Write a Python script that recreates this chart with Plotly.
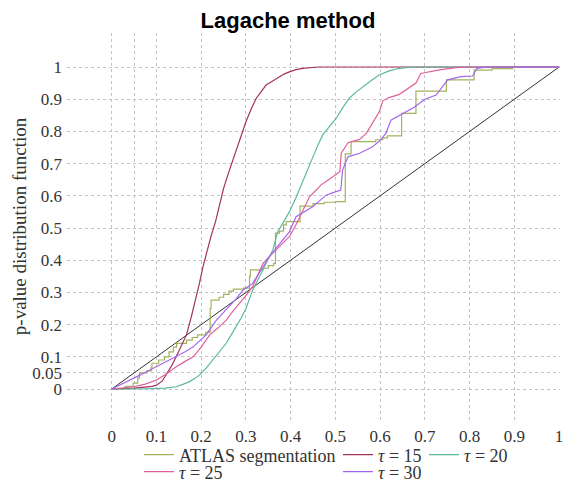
import plotly.graph_objects as go

# ---------------- data ----------------
tau15_x = [0, 0.05, 0.09, 0.1, 0.113, 0.126, 0.135, 0.144, 0.156, 0.167, 0.178, 0.187, 0.196,
           0.204, 0.211, 0.222, 0.232, 0.24, 0.25, 0.262, 0.275, 0.288, 0.30, 0.312, 0.323,
           0.335, 0.345, 0.358, 0.371, 0.385, 0.397, 0.412, 0.427, 0.46, 1.0]
tau15_y = [0, 0.003, 0.008, 0.012, 0.025, 0.054, 0.075, 0.10, 0.135, 0.168, 0.225, 0.275, 0.328,
           0.38, 0.42, 0.475, 0.52, 0.57, 0.623, 0.675, 0.727, 0.78, 0.83, 0.87, 0.903,
           0.925, 0.944, 0.955, 0.967, 0.978, 0.985, 0.992, 0.996, 1.0, 1.0]

tau20_x = [0, 0.06, 0.12, 0.144, 0.16, 0.174, 0.186, 0.196, 0.211, 0.226, 0.241, 0.256, 0.267,
           0.278, 0.29, 0.30, 0.308, 0.315, 0.327, 0.338, 0.349, 0.36, 0.371, 0.384, 0.397,
           0.412, 0.427, 0.438, 0.449, 0.46, 0.472, 0.487, 0.502, 0.516, 0.531, 0.546, 0.561,
           0.58, 0.598, 0.62, 0.643, 0.673, 1.0]
tau20_y = [0, 0.0, 0.003, 0.007, 0.015, 0.023, 0.033, 0.043, 0.065, 0.09, 0.115, 0.142, 0.168,
           0.193, 0.222, 0.25, 0.28, 0.307, 0.34, 0.37, 0.40, 0.432, 0.488, 0.52, 0.55,
           0.595, 0.645, 0.685, 0.72, 0.755, 0.79, 0.815, 0.841, 0.873, 0.903, 0.922, 0.939,
           0.958, 0.975, 0.988, 0.996, 1.0, 1.0]

atlas_x = [0, 0.03, 0.048, 0.058, 0.062, 0.078, 0.088, 0.09, 0.105, 0.118, 0.128, 0.138, 0.145,
           0.167, 0.18, 0.192, 0.21, 0.22, 0.222, 0.24, 0.25, 0.262, 0.272, 0.295, 0.308, 0.31,
           0.338, 0.35, 0.362, 0.366, 0.375, 0.384, 0.39, 0.421, 0.45, 0.475, 0.5, 0.522, 0.535,
           0.59, 0.606, 0.616, 0.648, 0.68, 0.748, 0.81, 0.85, 0.896, 1.0]
atlas_y = [0, 0.008, 0.018, 0.034, 0.05, 0.056, 0.066, 0.08, 0.09, 0.1, 0.115, 0.13, 0.142,
           0.152, 0.16, 0.168, 0.176, 0.25, 0.276, 0.285, 0.294, 0.304, 0.31, 0.313, 0.35, 0.37,
           0.375, 0.383, 0.39, 0.484, 0.49, 0.51, 0.52, 0.568, 0.576, 0.58, 0.582, 0.73, 0.768,
           0.774, 0.78, 0.786, 0.856, 0.925, 0.96, 0.99, 0.995, 1.0, 1.0]

tau25_x = [0, 0.025, 0.048, 0.075, 0.1, 0.12, 0.144, 0.163, 0.182, 0.2, 0.219, 0.238, 0.256,
           0.27, 0.286, 0.3, 0.315, 0.325, 0.338, 0.355, 0.367, 0.375, 0.397, 0.41, 0.42, 0.435,
           0.442, 0.455, 0.468, 0.48, 0.494, 0.51, 0.513, 0.528, 0.554, 0.569, 0.576, 0.587,
           0.598, 0.606, 0.62, 0.643, 0.673, 0.68, 0.691, 0.732, 0.77, 0.8, 1.0]
tau25_y = [0, 0.003, 0.007, 0.015, 0.028, 0.045, 0.069, 0.085, 0.10, 0.13, 0.168, 0.19, 0.214,
           0.24, 0.266, 0.29, 0.318, 0.35, 0.39, 0.415, 0.432, 0.442, 0.473, 0.505, 0.535, 0.575,
           0.597, 0.615, 0.634, 0.645, 0.66, 0.675, 0.732, 0.765, 0.775, 0.794, 0.81, 0.835,
           0.861, 0.895, 0.905, 0.915, 0.944, 0.95, 0.98, 0.991, 0.998, 1.0, 1.0]

tau30_x = [0, 0.025, 0.045, 0.063, 0.08, 0.1, 0.12, 0.144, 0.163, 0.182, 0.197, 0.211, 0.222,
           0.234, 0.248, 0.263, 0.278, 0.293, 0.315, 0.325, 0.338, 0.352, 0.367, 0.38, 0.397,
           0.412, 0.43, 0.449, 0.465, 0.479, 0.495, 0.512, 0.516, 0.528, 0.554, 0.583, 0.598,
           0.613, 0.624, 0.65, 0.676, 0.7, 0.725, 0.751, 0.78, 0.807, 0.816, 0.84, 1.0]
tau30_y = [0, 0.018, 0.03, 0.043, 0.055, 0.069, 0.085, 0.10, 0.115, 0.131, 0.15, 0.168, 0.19,
           0.214, 0.235, 0.256, 0.28, 0.307, 0.328, 0.35, 0.38, 0.41, 0.437, 0.46, 0.488,
           0.535, 0.55, 0.566, 0.585, 0.602, 0.61, 0.618, 0.68, 0.721, 0.732, 0.752, 0.77,
           0.794, 0.835, 0.856, 0.875, 0.9, 0.913, 0.96, 0.97, 0.972, 0.996, 1.0, 1.0]

diag_x = [0, 1]
diag_y = [0, 1]

x_ticks = [0, 0.05, 0.1, 0.2, 0.3, 0.4, 0.5, 0.6, 0.7, 0.8, 0.9, 1]
x_labels = ["0", "", "0.1", "0.2", "0.3", "0.4", "0.5", "0.6", "0.7", "0.8", "0.9", "1"]
y_ticks = [0, 0.05, 0.1, 0.2, 0.3, 0.4, 0.5, 0.6, 0.7, 0.8, 0.9, 1]
y_labels = ["0", "0.05", "0.1", "0.2", "0.3", "0.4", "0.5", "0.6", "0.7", "0.8", "0.9", "1"]

# ---------------- styling ----------------
SERIF = "Liberation Serif, DejaVu Serif, serif"
TXT = "#333333"
GRID = "#c4c4c4"

fig = go.Figure()
fig.add_trace(go.Scatter(x=diag_x, y=diag_y, mode="lines", showlegend=False,
                         line=dict(color="#333333", width=1), hoverinfo="skip"))
fig.add_trace(go.Scatter(x=atlas_x, y=atlas_y, mode="lines", name="ATLAS segmentation",
                         line=dict(color="#a3b35c", width=1.2, shape="hv"), legend="legend"))
fig.add_trace(go.Scatter(x=tau15_x, y=tau15_y, mode="lines", name="<i>τ</i> = 15",
                         line=dict(color="#a3325e", width=1.2), legend="legend2"))
fig.add_trace(go.Scatter(x=tau20_x, y=tau20_y, mode="lines", name="<i>τ</i> = 20",
                         line=dict(color="#5bb99d", width=1.2), legend="legend3"))
fig.add_trace(go.Scatter(x=tau25_x, y=tau25_y, mode="lines", name="<i>τ</i> = 25",
                         line=dict(color="#e0609e", width=1.2), legend="legend4"))
fig.add_trace(go.Scatter(x=tau30_x, y=tau30_y, mode="lines", name="<i>τ</i> = 30",
                         line=dict(color="#a366ee", width=1.2), legend="legend5"))

# the page adds an 8px body margin, so the figure is sized/placed to compensate
OFF = 8
W, H = 572 - OFF, 489 - OFF
L, T = 67 - OFF, 33 - OFF
R = W - (560 - OFF)
B = H - (420 - OFF)
pw, ph = W - L - R, H - T - B


def lx(page_px):
    return (page_px - OFF - L) / pw


def ly(page_py):
    return (H - B - (page_py - OFF)) / ph


leg_common = dict(bgcolor="rgba(0,0,0,0)", borderwidth=0, orientation="v",
                  font=dict(family=SERIF, size=18, color=TXT),
                  xanchor="left", yanchor="middle", itemwidth=30)

# text start positions (page px) of the three legend columns, minus the symbol area
text1, text2, text3 = 180, 379, 465
col1, col2, col3 = text1 - 41, text2 - 41, text3 - 41
row1, row2 = 455, 472

fig.update_layout(
    width=W, height=H,
    margin=dict(l=L, r=R, t=T, b=B, autoexpand=False),
    paper_bgcolor="white", plot_bgcolor="white",
    title=dict(text="<b>Lagache method</b>", x=(288 - OFF) / W, xanchor="center", xref="container",
               y=1 - (20 - OFF) / H, yanchor="middle", yref="container",
               font=dict(family="Liberation Sans, Arial, sans-serif", size=22, color="black")),
    xaxis=dict(range=[-0.1, 1.002], tickvals=x_ticks, ticktext=x_labels,
               showgrid=True, gridcolor=GRID, griddash="3px,3px", gridwidth=1,
               zeroline=False, showline=False, ticks="", ticklabelstandoff=4,
               tickfont=dict(family=SERIF, size=17, color=TXT)),
    yaxis=dict(range=[-31 / 322, 1 + 34 / 322], tickvals=y_ticks, ticktext=y_labels,
               showgrid=True, gridcolor=GRID, griddash="3px,3px", gridwidth=1,
               zeroline=False, showline=False, ticks="", ticklabelstandoff=4,
               tickfont=dict(family=SERIF, size=17, color=TXT),
               title=dict(text="p-value distribution function", standoff=0,
                          font=dict(family=SERIF, size=19, color=TXT))),
    legend=dict(leg_common, x=lx(col1), y=ly(row1)),
    legend2=dict(leg_common, x=lx(col2), y=ly(row1)),
    legend3=dict(leg_common, x=lx(col3), y=ly(row1)),
    legend4=dict(leg_common, x=lx(col1), y=ly(row2)),
    legend5=dict(leg_common, x=lx(col2), y=ly(row2)),
)

fig.write_html("out.html")
